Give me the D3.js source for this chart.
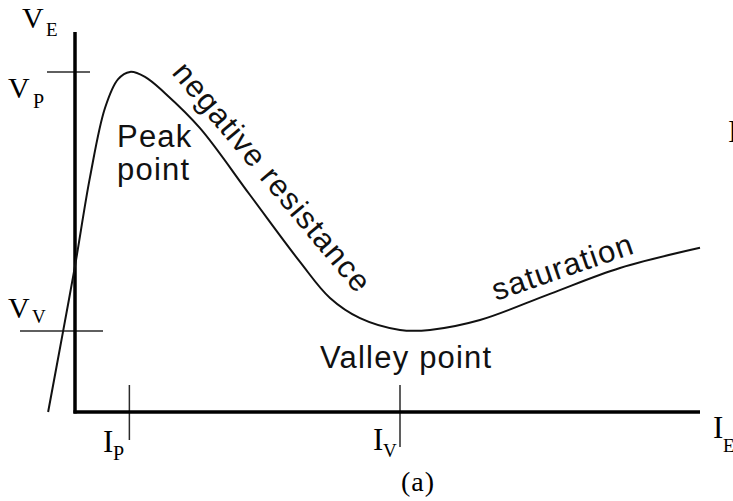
<!DOCTYPE html>
<html>
<head>
<meta charset="utf-8">
<script src="https://cdn.jsdelivr.net/npm/d3@7"></script>
<style>
  html, body { margin: 0; padding: 0; background: #fff; }
  svg { display: block; }
</style>
</head>
<body>
<svg id="chart" width="733" height="501"></svg>
<script>
// Emitter current I_E (arbitrary units) and emitter voltage V_E along the UJT characteristic
const ie = [-0.43, -0.19, 0.00, 0.24, 0.48, 0.69, 0.88, 1.12, 1.44, 2.00, 2.80, 3.60, 4.08, 4.56, 5.20, 5.68, 6.48, 7.60, 8.72, 10.0];
const ve = [0.00, 2.13, 3.84, 6.18, 8.00, 8.76, 8.95, 8.82, 8.39, 7.47, 5.71, 3.95, 3.00, 2.47, 2.16, 2.16, 2.42, 3.11, 3.79, 4.32];

// Peak and valley markers
const peakI = 0.87, peakV = 8.95;
const valleyI = 5.20, valleyV = 2.13;

const svg = d3.select("#chart");
const x = d3.scaleLinear().domain([0, 10]).range([75, 700]);
const y = d3.scaleLinear().domain([0, 10]).range([412, 32]);

const serif = "'Liberation Serif', 'Times New Roman', serif";
const sans = "'Liberation Sans', Arial, Helvetica, sans-serif";

// Marker ticks on the axes
const tickColor = "#2a2a2a";
svg.append("line").attr("x1", x(0) - 28).attr("x2", x(0) + 15)
  .attr("y1", y(peakV)).attr("y2", y(peakV))
  .attr("stroke", tickColor).attr("stroke-width", 1.5);
svg.append("line").attr("x1", x(0) - 55).attr("x2", x(0) + 28)
  .attr("y1", y(valleyV)).attr("y2", y(valleyV))
  .attr("stroke", tickColor).attr("stroke-width", 1.5);
svg.append("line").attr("x1", x(peakI)).attr("x2", x(peakI))
  .attr("y1", y(0) - 27).attr("y2", y(0) + 28)
  .attr("stroke", tickColor).attr("stroke-width", 1.5);
svg.append("line").attr("x1", x(valleyI)).attr("x2", x(valleyI))
  .attr("y1", y(0) - 27).attr("y2", y(0) + 35)
  .attr("stroke", tickColor).attr("stroke-width", 1.5);

// Axes
svg.append("line").attr("x1", x(0)).attr("x2", x(0))
  .attr("y1", y(10)).attr("y2", y(0) + 1.5)
  .attr("stroke", "#000").attr("stroke-width", 3.5);
svg.append("line").attr("x1", x(0) - 1.5).attr("x2", x(10))
  .attr("y1", y(0)).attr("y2", y(0))
  .attr("stroke", "#000").attr("stroke-width", 3.5);

// Characteristic curve
const pts = ie.map((d, i) => [d, ve[i]]);
const line = d3.line().x(d => x(d[0])).y(d => y(d[1])).curve(d3.curveCatmullRom.alpha(0.5));
svg.append("path").attr("d", line(pts))
  .attr("fill", "none").attr("stroke", "#111").attr("stroke-width", 2);

// Serif labels with subscripts
function subLabel(main, sub, mx, my, sx, sy, mainSize, subSize) {
  svg.append("text").attr("x", mx).attr("y", my)
    .attr("font-family", serif).attr("font-size", mainSize).attr("fill", "#000").text(main);
  svg.append("text").attr("x", sx).attr("y", sy)
    .attr("font-family", serif).attr("font-size", subSize).attr("fill", "#000").text(sub);
}
subLabel("V", "E", 22, 28, 46, 36, 30, 19);
subLabel("V", "P", 8, 98, 33, 108, 30, 20);
subLabel("V", "V", 8, 318, 32, 323, 30, 19);
subLabel("I", "P", 103, 452, 113, 460, 31, 20);
subLabel("I", "V", 373, 450, 383, 457, 31, 19);
subLabel("I", "E", 713, 438, 723, 452, 31, 19);

svg.append("text").attr("x", 728).attr("y", 142)
  .attr("font-family", serif).attr("font-size", 31).attr("fill", "#000").text("I");

svg.append("text").attr("x", 418).attr("y", 491).attr("text-anchor", "middle")
  .attr("font-family", serif).attr("font-size", 28).attr("letter-spacing", 1).attr("fill", "#000").text("(a)");

// Region annotations
const annot = (t, tx, ty, transform) => svg.append("text")
  .attr("x", tx).attr("y", ty).attr("transform", transform || null)
  .attr("font-family", sans).attr("font-size", 31).attr("letter-spacing", 1.2)
  .attr("fill", "#111").text(t);
annot("Peak", 117, 147);
annot("point", 117, 180);
annot("Valley point", 320, 368);
annot("negative resistance", 0, 0, "translate(171,73) rotate(50)");
annot("saturation", 0, 0, "translate(496,301) rotate(-19)");
</script>
</body>
</html>
